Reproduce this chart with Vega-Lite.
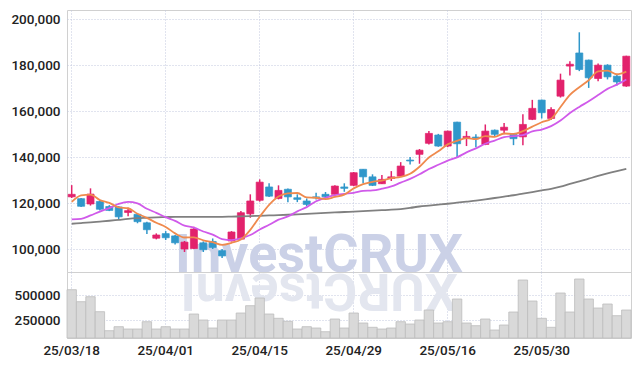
{
  "$schema": "https://vega.github.io/schema/vega-lite/v6.json",
  "padding": {"left": 10, "top": 9, "right": 9, "bottom": 4},
  "autosize": {"type": "pad"},
  "bounds": "flush",
  "spacing": 0,
  "background": "white",
  "config": {
    "font": "Roboto",
    "view": {"stroke": "#d0d0d0"},
    "axis": {"labelFont": "Roboto", "labelFontSize": 13.5, "labelFontWeight": 500, "labelColor": "#222222", "ticks": false, "domain": false, "gridColor": "#c3c8de", "gridDash": [1, 2], "gridWidth": 1, "title": null}
  },
  "datasets": {
    "k": [
      {"date": "25/03/18", "open": 122700, "high": 127800, "low": 122200, "close": 123800, "volume": 553000, "ma5": 120500, "ma10": 112900, "ma60": 111000},
      {"date": "25/03/19", "open": 121900, "high": 122200, "low": 118300, "close": 118600, "volume": 433000, "ma5": 123300, "ma10": 113100, "ma60": 111300},
      {"date": "25/03/20", "open": 119600, "high": 126400, "low": 118900, "close": 123900, "volume": 483000, "ma5": 123700, "ma10": 114600, "ma60": 111600},
      {"date": "25/03/21", "open": 120700, "high": 121300, "low": 116800, "close": 117300, "volume": 333000, "ma5": 121300, "ma10": 116300, "ma60": 111950},
      {"date": "25/03/24", "open": 118500, "high": 119100, "low": 116500, "close": 116800, "volume": 143000, "ma5": 120080, "ma10": 117800, "ma60": 112300},
      {"date": "25/03/25", "open": 118300, "high": 118700, "low": 112600, "close": 114000, "volume": 183000, "ma5": 118120, "ma10": 119600, "ma60": 112700},
      {"date": "25/03/26", "open": 115900, "high": 118000, "low": 114300, "close": 116700, "volume": 160000, "ma5": 117740, "ma10": 120500, "ma60": 113100},
      {"date": "25/03/27", "open": 115100, "high": 115400, "low": 111200, "close": 111900, "volume": 160000, "ma5": 115340, "ma10": 119900, "ma60": 113400},
      {"date": "25/03/28", "open": 111400, "high": 111900, "low": 106500, "close": 108400, "volume": 233000, "ma5": 113560, "ma10": 117500, "ma60": 113600},
      {"date": "25/03/31", "open": 104700, "high": 106800, "low": 104200, "close": 106100, "volume": 160000, "ma5": 111420, "ma10": 115750, "ma60": 113800},
      {"date": "25/04/01", "open": 106700, "high": 107800, "low": 103900, "close": 104900, "volume": 183000, "ma5": 109600, "ma10": 113860, "ma60": 113900},
      {"date": "25/04/02", "open": 105700, "high": 106100, "low": 102000, "close": 102700, "volume": 160000, "ma5": 106800, "ma10": 112270, "ma60": 114000},
      {"date": "25/04/03", "open": 100000, "high": 103500, "low": 98700, "close": 103000, "volume": 160000, "ma5": 105020, "ma10": 110180, "ma60": 114000},
      {"date": "25/04/04", "open": 100200, "high": 109700, "low": 100000, "close": 108700, "volume": 310000, "ma5": 105080, "ma10": 109320, "ma60": 114000},
      {"date": "25/04/07", "open": 102700, "high": 103300, "low": 98700, "close": 99700, "volume": 250000, "ma5": 103800, "ma10": 107610, "ma60": 114000},
      {"date": "25/04/08", "open": 103300, "high": 104600, "low": 100000, "close": 100700, "volume": 170000, "ma5": 102960, "ma10": 106280, "ma60": 114000},
      {"date": "25/04/09", "open": 99300, "high": 100000, "low": 96100, "close": 97000, "volume": 250000, "ma5": 101820, "ma10": 104310, "ma60": 114000},
      {"date": "25/04/10", "open": 103500, "high": 107800, "low": 103300, "close": 107400, "volume": 250000, "ma5": 102700, "ma10": 103860, "ma60": 114100},
      {"date": "25/04/11", "open": 104300, "high": 116500, "low": 103900, "close": 115800, "volume": 320000, "ma5": 104120, "ma10": 104600, "ma60": 114200},
      {"date": "25/04/14", "open": 115300, "high": 123800, "low": 113600, "close": 120900, "volume": 393000, "ma5": 108360, "ma10": 106080, "ma60": 114300},
      {"date": "25/04/15", "open": 121200, "high": 130300, "low": 120600, "close": 129100, "volume": 470000, "ma5": 114040, "ma10": 108500, "ma60": 114450},
      {"date": "25/04/16", "open": 127000, "high": 128600, "low": 122600, "close": 123000, "volume": 310000, "ma5": 119240, "ma10": 110530, "ma60": 114600},
      {"date": "25/04/17", "open": 122000, "high": 127700, "low": 121600, "close": 125500, "volume": 267000, "ma5": 122860, "ma10": 112780, "ma60": 114750},
      {"date": "25/04/18", "open": 126000, "high": 126300, "low": 120400, "close": 122700, "volume": 237000, "ma5": 124240, "ma10": 114180, "ma60": 114900},
      {"date": "25/04/21", "open": 122300, "high": 123800, "low": 120400, "close": 121600, "volume": 160000, "ma5": 124380, "ma10": 116370, "ma60": 115100},
      {"date": "25/04/22", "open": 120900, "high": 122000, "low": 118700, "close": 119400, "volume": 183000, "ma5": 122440, "ma10": 118240, "ma60": 115300},
      {"date": "25/04/23", "open": 122700, "high": 124500, "low": 121600, "close": 122300, "volume": 170000, "ma5": 122300, "ma10": 120770, "ma60": 115500},
      {"date": "25/04/24", "open": 123800, "high": 124800, "low": 122000, "close": 122700, "volume": 133000, "ma5": 121740, "ma10": 122300, "ma60": 115700},
      {"date": "25/04/25", "open": 123800, "high": 127800, "low": 123300, "close": 127400, "volume": 260000, "ma5": 122680, "ma10": 123460, "ma60": 115900},
      {"date": "25/04/28", "open": 127000, "high": 128600, "low": 124900, "close": 126400, "volume": 170000, "ma5": 123640, "ma10": 124010, "ma60": 116100},
      {"date": "25/04/29", "open": 127700, "high": 133500, "low": 127300, "close": 133200, "volume": 320000, "ma5": 126400, "ma10": 124420, "ma60": 116300},
      {"date": "25/04/30", "open": 134700, "high": 134800, "low": 128600, "close": 131400, "volume": 220000, "ma5": 128220, "ma10": 125260, "ma60": 116500},
      {"date": "25/05/02", "open": 131400, "high": 132500, "low": 127400, "close": 127700, "volume": 177000, "ma5": 129220, "ma10": 125480, "ma60": 116700},
      {"date": "25/05/07", "open": 128400, "high": 132200, "low": 128300, "close": 130300, "volume": 160000, "ma5": 129800, "ma10": 126240, "ma60": 116900},
      {"date": "25/05/08", "open": 130700, "high": 133900, "low": 129600, "close": 131400, "volume": 170000, "ma5": 130800, "ma10": 127220, "ma60": 117100},
      {"date": "25/05/09", "open": 131700, "high": 137800, "low": 131500, "close": 136100, "volume": 233000, "ma5": 131380, "ma10": 128890, "ma60": 117400},
      {"date": "25/05/12", "open": 138700, "high": 140000, "low": 136800, "close": 138300, "volume": 210000, "ma5": 132760, "ma10": 130490, "ma60": 117900},
      {"date": "25/05/13", "open": 141200, "high": 143500, "low": 137100, "close": 143000, "volume": 250000, "ma5": 135820, "ma10": 132520, "ma60": 118500},
      {"date": "25/05/14", "open": 146000, "high": 151300, "low": 145500, "close": 150300, "volume": 350000, "ma5": 139820, "ma10": 134810, "ma60": 118900},
      {"date": "25/05/15", "open": 149600, "high": 150100, "low": 144500, "close": 144800, "volume": 220000, "ma5": 142500, "ma10": 136650, "ma60": 119300},
      {"date": "25/05/16", "open": 144800, "high": 151500, "low": 144300, "close": 151300, "volume": 233000, "ma5": 145540, "ma10": 138460, "ma60": 119700},
      {"date": "25/05/19", "open": 155200, "high": 155400, "low": 139700, "close": 145800, "volume": 460000, "ma5": 147040, "ma10": 139900, "ma60": 120150},
      {"date": "25/05/20", "open": 148400, "high": 151300, "low": 144800, "close": 149000, "volume": 220000, "ma5": 148240, "ma10": 142030, "ma60": 120600},
      {"date": "25/05/21", "open": 148700, "high": 149900, "low": 144300, "close": 148100, "volume": 193000, "ma5": 147800, "ma10": 143810, "ma60": 121050},
      {"date": "25/05/22", "open": 145500, "high": 154200, "low": 145200, "close": 151300, "volume": 260000, "ma5": 149100, "ma10": 145800, "ma60": 121600},
      {"date": "25/05/23", "open": 151700, "high": 152000, "low": 149100, "close": 149900, "volume": 150000, "ma5": 148820, "ma10": 147180, "ma60": 122200},
      {"date": "25/05/26", "open": 151700, "high": 154800, "low": 149900, "close": 153000, "volume": 200000, "ma5": 150260, "ma10": 148650, "ma60": 122800},
      {"date": "25/05/27", "open": 149900, "high": 150200, "low": 145200, "close": 148000, "volume": 330000, "ma5": 150060, "ma10": 149150, "ma60": 123400},
      {"date": "25/05/28", "open": 148800, "high": 158600, "low": 145200, "close": 154200, "volume": 650000, "ma5": 151280, "ma10": 149540, "ma60": 124100},
      {"date": "25/05/29", "open": 156400, "high": 164900, "low": 156100, "close": 161200, "volume": 440000, "ma5": 153260, "ma10": 151180, "ma60": 124800},
      {"date": "25/05/30", "open": 164800, "high": 165000, "low": 156800, "close": 159300, "volume": 267000, "ma5": 155140, "ma10": 151980, "ma60": 125500},
      {"date": "25/06/02", "open": 156800, "high": 161700, "low": 156100, "close": 160700, "volume": 177000, "ma5": 156680, "ma10": 153470, "ma60": 126200},
      {"date": "25/06/04", "open": 166500, "high": 176300, "low": 165900, "close": 173500, "volume": 520000, "ma5": 161780, "ma10": 155920, "ma60": 127100},
      {"date": "25/06/05", "open": 179600, "high": 181700, "low": 175500, "close": 180400, "volume": 330000, "ma5": 167020, "ma10": 159150, "ma60": 128300},
      {"date": "25/06/09", "open": 185300, "high": 194300, "low": 177400, "close": 178100, "volume": 660000, "ma5": 170400, "ma10": 161830, "ma60": 129400},
      {"date": "25/06/10", "open": 182200, "high": 182400, "low": 170100, "close": 174500, "volume": 460000, "ma5": 173440, "ma10": 164290, "ma60": 130600},
      {"date": "25/06/11", "open": 174200, "high": 180700, "low": 173000, "close": 180000, "volume": 370000, "ma5": 177300, "ma10": 166990, "ma60": 131800},
      {"date": "25/06/12", "open": 180000, "high": 180400, "low": 173800, "close": 174900, "volume": 410000, "ma5": 177580, "ma10": 169680, "ma60": 132900},
      {"date": "25/06/13", "open": 175200, "high": 176000, "low": 171200, "close": 172700, "volume": 293000, "ma5": 176040, "ma10": 171530, "ma60": 133900},
      {"date": "25/06/16", "open": 170900, "high": 184100, "low": 170600, "close": 183900, "volume": 350000, "ma5": 177200, "ma10": 173800, "ma60": 134850}
    ]
  },
  "vconcat": [
    {
      "width": 564,
      "height": 262,
      "encoding": {
        "x": {"field": "date", "type": "ordinal", "scale": {"paddingInner": 0, "paddingOuter": 0}, "axis": {"labels": false, "grid": true, "values": ["25/03/18", "25/04/01", "25/04/15", "25/04/29", "25/05/16", "25/05/30"]}}
      },
      "layer": [
        {
          "data": {"values": [{"date": "25/04/23", "price": 90000, "label": "InvestCRUX"}]},
          "mark": {"type": "text", "font": "Roboto", "fontWeight": "bold", "fontSize": 54, "color": "#cbd1e7", "align": "center", "baseline": "alphabetic", "dx": 3},
          "encoding": {
            "y": {"field": "price", "type": "quantitative", "scale": {"domain": [90000, 204000], "nice": false, "zero": false}, "axis": {"values": [100000, 120000, 140000, 160000, 180000, 200000], "format": ",d", "grid": true, "labelPadding": 7, "minExtent": 53, "maxExtent": 53}},
            "text": {"field": "label"}
          }
        },
        {
          "data": {"name": "k"},
          "mark": {"type": "rule", "strokeWidth": 1.5},
          "encoding": {
            "y": {"field": "low", "type": "quantitative"},
            "y2": {"field": "high"},
            "color": {"condition": {"test": "datum.close >= datum.open", "value": "#e2226c"}, "value": "#3097ca"}
          }
        },
        {
          "data": {"name": "k"},
          "mark": {"type": "bar", "width": {"band": 0.75}, "strokeWidth": 1, "strokeOpacity": 0.7},
          "encoding": {
            "y": {"field": "open", "type": "quantitative"},
            "y2": {"field": "close"},
            "fill": {"condition": {"test": "datum.close >= datum.open", "value": "#e2226c"}, "value": "#3097ca"},
            "stroke": {"condition": {"test": "datum.close >= datum.open", "value": "#e2226c"}, "value": "#3097ca"}
          }
        },
        {
          "data": {"name": "k"},
          "mark": {"type": "line", "interpolate": "monotone", "strokeWidth": 1.8, "color": "#808080"},
          "encoding": {"y": {"field": "ma60", "type": "quantitative"}}
        },
        {
          "data": {"name": "k"},
          "mark": {"type": "line", "interpolate": "monotone", "strokeWidth": 1.8, "color": "#d05aea"},
          "encoding": {"y": {"field": "ma10", "type": "quantitative"}}
        },
        {
          "data": {"name": "k"},
          "mark": {"type": "line", "interpolate": "monotone", "strokeWidth": 1.8, "color": "#ef8a4e"},
          "encoding": {"y": {"field": "ma5", "type": "quantitative"}}
        }
      ]
    },
    {
      "width": 564,
      "height": 66,
      "encoding": {
        "x": {"field": "date", "type": "ordinal", "scale": {"paddingInner": 0, "paddingOuter": 0}, "axis": {"labels": true, "labelAngle": 0, "labelPadding": 5, "grid": true, "values": ["25/03/18", "25/04/01", "25/04/15", "25/04/29", "25/05/16", "25/05/30"]}}
      },
      "layer": [
        {
          "data": {"values": [{"date": "25/04/23", "volume": 708000, "label": "XURCtsevnI"}]},
          "mark": {"type": "text", "font": "Roboto", "fontWeight": "bold", "fontSize": 52, "color": "#e3e6ef", "align": "center", "baseline": "alphabetic", "angle": 180, "dx": -3},
          "encoding": {
            "y": {"field": "volume", "type": "quantitative", "scale": {"domain": [70000, 730000], "nice": false, "zero": false}, "axis": {"values": [250000, 500000], "format": "d", "grid": true, "labelPadding": 7, "minExtent": 53, "maxExtent": 53}},
            "text": {"field": "label"}
          }
        },
        {
          "data": {"name": "k"},
          "mark": {"type": "bar", "fill": "#d9d9d9", "stroke": "#bcbcbc", "strokeWidth": 0.8},
          "encoding": {
            "y": {"field": "volume", "type": "quantitative"},
            "y2": {"datum": 70000}
          }
        }
      ]
    }
  ]
}
